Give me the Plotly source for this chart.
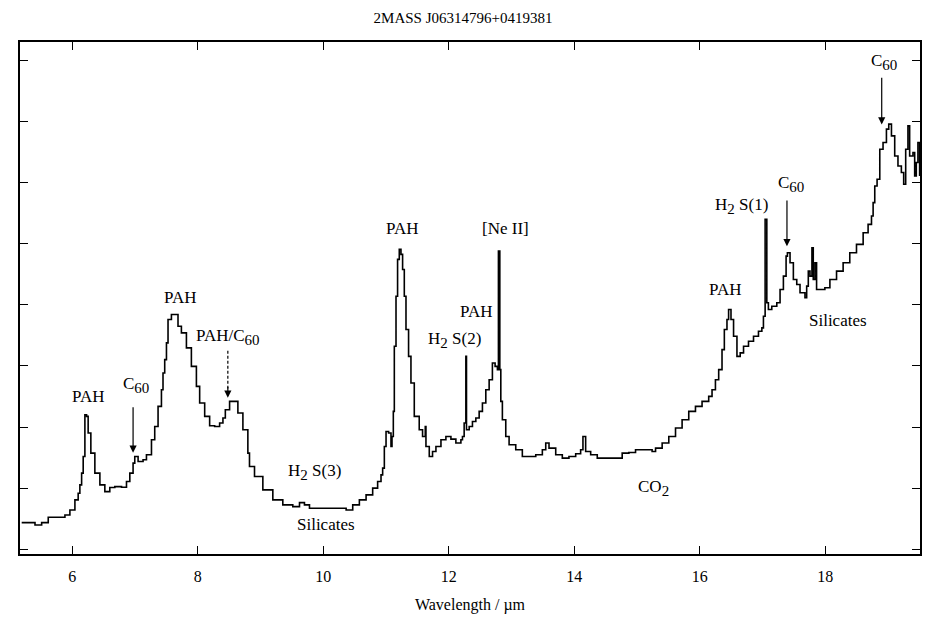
import plotly.graph_objects as go

# Mid-infrared spectrum of 2MASS J06314796+0419381 (flux in arbitrary units)
wavelength = [
    5.195, 5.407, 5.513, 5.618, 5.884, 5.963, 6.043, 6.095, 6.122, 6.150,
    6.175, 6.202, 6.229, 6.254, 6.297, 6.361, 6.441, 6.520, 6.599, 6.679,
    6.786, 6.865, 6.918, 6.970, 6.997, 7.050, 7.129, 7.183, 7.263, 7.315,
    7.368, 7.422, 7.447, 7.474, 7.502, 7.527, 7.581, 7.661, 7.686, 7.740,
    7.820, 7.899, 7.979, 8.031, 8.111, 8.190, 8.270, 8.349, 8.402, 8.440,
    8.508, 8.588, 8.640, 8.720, 8.799, 8.825, 8.905, 9.038, 9.197, 9.356,
    9.515, 9.622, 9.701, 9.781, 9.992, 10.206, 10.365, 10.470, 10.576, 10.683,
    10.788, 10.867, 10.921, 10.947, 10.974, 11.001, 11.042, 11.080, 11.096, 11.117,
    11.133, 11.160, 11.185, 11.212, 11.239, 11.265, 11.292, 11.319, 11.360, 11.398,
    11.451, 11.530, 11.583, 11.626, 11.637, 11.690, 11.742, 11.796, 11.876, 11.955,
    12.035, 12.114, 12.194, 12.219, 12.246, 12.273, 12.283, 12.326, 12.378, 12.432,
    12.485, 12.537, 12.591, 12.644, 12.696, 12.739, 12.776, 12.792, 12.814, 12.830,
    12.855, 12.909, 12.962, 13.068, 13.173, 13.280, 13.387, 13.492, 13.546, 13.598,
    13.705, 13.810, 13.916, 14.023, 14.102, 14.139, 14.182, 14.262, 14.367, 14.500,
    14.659, 14.764, 14.871, 14.977, 15.083, 15.189, 15.241, 15.296, 15.401, 15.507,
    15.614, 15.719, 15.825, 15.932, 16.037, 16.143, 16.196, 16.250, 16.302, 16.355,
    16.392, 16.434, 16.460, 16.498, 16.539, 16.593, 16.645, 16.698, 16.777, 16.857,
    16.936, 16.990, 17.015, 17.042, 17.069, 17.094, 17.148, 17.228, 17.280, 17.333,
    17.376, 17.397, 17.439, 17.492, 17.546, 17.598, 17.677, 17.704, 17.730, 17.757,
    17.788, 17.809, 17.836, 17.862, 17.915, 17.994, 18.074, 18.180, 18.285, 18.391,
    18.498, 18.604, 18.683, 18.737, 18.763, 18.789, 18.826, 18.869, 18.921, 18.975,
    19.012, 19.055, 19.107, 19.159, 19.213, 19.250, 19.282, 19.318, 19.345, 19.398,
    19.425, 19.451, 19.477, 19.504,
]
flux = [
    0.436, 0.398, 0.436, 0.525, 0.562, 0.644, 0.808, 0.918, 1.054, 1.246,
    1.518, 2.202, 2.174, 1.902, 1.574, 1.246, 1.054, 0.944, 1.010, 1.026,
    1.016, 1.108, 1.246, 1.410, 1.518, 1.436, 1.464, 1.546, 1.792, 2.010,
    2.338, 2.611, 2.885, 3.103, 3.377, 3.759, 3.841, 3.841, 3.649, 3.541,
    3.295, 2.993, 2.666, 2.393, 2.174, 2.021, 2.010, 2.066, 2.148, 2.284,
    2.420, 2.420, 2.230, 1.956, 1.574, 1.354, 1.190, 0.972, 0.808, 0.726,
    0.698, 0.764, 0.726, 0.672, 0.672, 0.672, 0.644, 0.726, 0.808, 0.890,
    1.000, 1.108, 1.218, 1.328, 1.682, 1.928, 1.902, 1.682, 1.846, 2.256,
    3.321, 4.141, 4.743, 4.907, 4.825, 4.579, 4.141, 3.595, 3.157, 2.721,
    2.174, 1.956, 1.846, 2.010, 1.682, 1.518, 1.600, 1.682, 1.792, 1.846,
    1.803, 1.738, 1.792, 1.846, 2.066, 3.157, 1.956, 2.010, 2.092, 2.148,
    2.256, 2.393, 2.611, 2.775, 3.049, 2.993, 2.939, 4.879, 2.939, 2.420,
    2.120, 1.846, 1.710, 1.628, 1.518, 1.518, 1.546, 1.628, 1.738, 1.656,
    1.546, 1.492, 1.518, 1.562, 1.628, 1.846, 1.600, 1.546, 1.492, 1.492,
    1.492, 1.574, 1.584, 1.628, 1.628, 1.628, 1.600, 1.656, 1.738, 1.846,
    1.984, 2.120, 2.256, 2.338, 2.420, 2.502, 2.611, 2.775, 2.939, 3.267,
    3.595, 3.759, 3.923, 3.759, 3.485, 3.157, 3.213, 3.321, 3.403, 3.485,
    3.567, 3.623, 3.813, 5.398, 4.033, 3.923, 3.977, 4.033, 4.251, 4.469,
    4.797, 4.852, 4.689, 4.415, 4.333, 4.197, 4.115, 4.305, 4.551, 4.469,
    4.934, 4.415, 4.689, 4.251, 4.251, 4.279, 4.415, 4.551, 4.689, 4.852,
    4.989, 5.180, 5.316, 5.452, 5.672, 5.944, 6.054, 6.546, 6.656, 6.874,
    6.956, 6.764, 6.436, 6.272, 6.164, 5.972, 6.546, 6.928, 6.436, 6.492,
    6.108, 6.328, 6.656, 6.108,
]

x_ticks = [6, 8, 10, 12, 14, 16, 18]
y_ticks = [0, 1, 2, 3, 4, 5, 6, 7, 8]

SERIF = "Liberation Serif"
SUB = "<sub><span style='font-size:15px'>{}</span></sub>"
C60 = "C" + SUB.format("60")
H2 = "H" + SUB.format("2")

fig = go.Figure()
fig.add_trace(go.Scatter(
    x=wavelength, y=flux, mode="lines",
    line=dict(color="black", width=1.6, shape="hv"),
    hoverinfo="skip", showlegend=False,
))

# feature labels: (text, wavelength, flux)
labels = [
    ("PAH", 6.25, 2.50),
    (C60, 7.01, 2.69),
    ("PAH", 7.71, 4.12),
    ("PAH/" + C60, 8.49, 3.48),
    (H2 + " S(3)", 9.86, 1.27),
    ("Silicates", 10.04, 0.41),
    ("PAH", 11.26, 5.25),
    ("[Ne II]", 12.90, 5.25),
    ("PAH", 12.44, 3.89),
    (H2 + " S(2)", 12.09, 3.43),
    ("CO" + SUB.format("2"), 15.27, 1.00),
    ("PAH", 16.41, 4.25),
    (H2 + " S(1)", 16.67, 5.61),
    (C60, 17.45, 5.97),
    ("Silicates", 18.20, 3.74),
    (C60, 18.94, 7.97),
]
annotations = []
for text, lx, ly in labels:
    annotations.append(dict(
        x=lx, y=ly, xref="x", yref="y", text=text, showarrow=False,
        font=dict(family=SERIF, size=17, color="black"),
        xanchor="center", yanchor="middle",
    ))

# solid arrows: (wavelength, tail flux, head flux)
arrows = [(6.97, 2.35, 1.58), (17.39, 5.73, 4.96), (18.90, 7.74, 6.95)]
for ax_, y0, y1 in arrows:
    annotations.append(dict(
        x=ax_, y=y1, ax=ax_, ay=y0, xref="x", yref="y", axref="x", ayref="y",
        text="", showarrow=True, arrowhead=2, arrowsize=1.2, arrowwidth=1.2,
        arrowcolor="black",
    ))

# dashed arrow for the blended PAH/C60 feature
dash_x, dash_y0, dash_y1 = 8.48, 3.25, 2.48
annotations.append(dict(
    x=dash_x, y=dash_y1, ax=dash_x, ay=dash_y1 + 0.2, xref="x", yref="y",
    axref="x", ayref="y", text="", showarrow=True, arrowhead=2,
    arrowsize=1.2, arrowwidth=1.2, arrowcolor="black",
))
shapes = [dict(
    type="line", xref="x", yref="y", x0=dash_x, x1=dash_x,
    y0=dash_y0, y1=dash_y1 + 0.15,
    line=dict(color="black", width=1.2, dash="3px,2px"),
)]

fig.update_layout(
    width=926, height=618,
    margin=dict(l=20, r=4, t=42, b=64),
    paper_bgcolor="white", plot_bgcolor="white",
    title=dict(
        text="2MASS J06314796+0419381", x=0.5, xanchor="center",
        y=1 - 18 / 618, yanchor="middle", yref="container",
        font=dict(family=SERIF, size=15, color="black"),
    ),
    annotations=annotations,
    shapes=shapes,
    xaxis=dict(
        range=[5.168, 19.51], tickvals=x_ticks, ticks="inside", ticklen=8,
        tickwidth=1.2, tickcolor="black", showline=True, linecolor="black",
        linewidth=1.5, mirror="ticks", showgrid=False, zeroline=False,
        tickfont=dict(family=SERIF, size=16, color="black"),
        ticklabelstandoff=7,
        title=dict(text="Wavelength / µm", standoff=15,
                   font=dict(family=SERIF, size=16, color="black")),
    ),
    yaxis=dict(
        range=[-0.077, 8.30], tickvals=y_ticks, ticks="inside", ticklen=8,
        tickwidth=1.2, tickcolor="black", showticklabels=False,
        showline=True, linecolor="black", linewidth=1.5, mirror="ticks",
        showgrid=False, zeroline=False,
    ),
)

fig.write_html("out.html")
